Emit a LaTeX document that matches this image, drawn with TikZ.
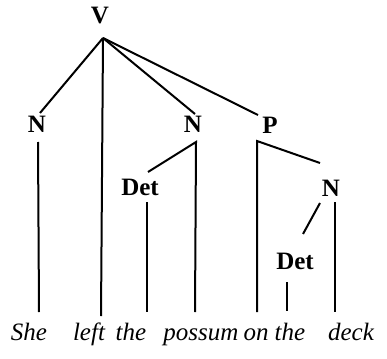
\documentclass[tikz,border=0pt]{standalone}
\usepackage{fontspec}
\setmainfont{Liberation Serif}
\begin{document}
\begin{tikzpicture}[x=1pt,y=-1pt,
  lab/.style={font=\bfseries\fontsize{25}{25}\selectfont, inner sep=0pt},
  word/.style={font=\itshape\fontsize{25}{25}\selectfont, inner sep=0pt, anchor=base},
  br/.style={line width=2pt}]
\useasboundingbox (0,0) rectangle (387,358);
% labels
\node[lab] (V) at (100,16) {V};
\node[lab] (N1) at (37,124) {N};
\node[lab] (N2) at (193,124) {N};
\node[lab] (P) at (270,125) {P};
\node[lab] (D1) at (140,187) {Det};
\node[lab] (N3) at (331,188) {N};
\node[lab] (D2) at (295,261) {Det};
% words
\node[word] (w1) at (29,340) {She};
\node[word] (w2) at (89,340) {left};
\node[word] (w3) at (131,340) {the};
\node[word] (w4) at (201,340) {possum};
\node[word] (w5) at (256,340) {on};
\node[word] (w6) at (290,340) {the};
\node[word] (w7) at (351,340) {deck};
% connection points
\coordinate (Vb) at (103,38);
\coordinate (N1t) at (40,113);
\coordinate (N1b) at (38,142);
\coordinate (N1e) at (39,312);
\coordinate (Lb) at (101,316);
\coordinate (N2t) at (195,114);
\coordinate (N2b) at (196,142);
\coordinate (N2e) at (195,312);
\coordinate (D1t) at (148,172);
\coordinate (D1b) at (147,202);
\coordinate (D1e) at (147,312);
\coordinate (Pt) at (258,115);
\coordinate (Pb) at (257,141);
\coordinate (Pe) at (257,312);
\coordinate (N3t) at (320,163);
\coordinate (N3l) at (320,203);
\coordinate (N3b) at (335,202);
\coordinate (N3e) at (335,312);
\coordinate (D2t) at (303,234);
\coordinate (D2b) at (287,282);
\coordinate (D2e) at (287,311);
% branches
\draw[br] (Vb) -- (N1t);
\draw[br] (Vb) -- (Lb);
\draw[br] (Vb) -- (N2t);
\draw[br] (Vb) -- (Pt);
\draw[br] (N1b) -- (N1e);
\draw[br] (D1t) -- (N2b) -- (N2e);
\draw[br] (D1b) -- (D1e);
\draw[br] (Pe) -- (Pb) -- (N3t);
\draw[br] (D2t) -- (N3l);
\draw[br] (N3b) -- (N3e);
\draw[br] (D2b) -- (D2e);
\end{tikzpicture}
\end{document}
